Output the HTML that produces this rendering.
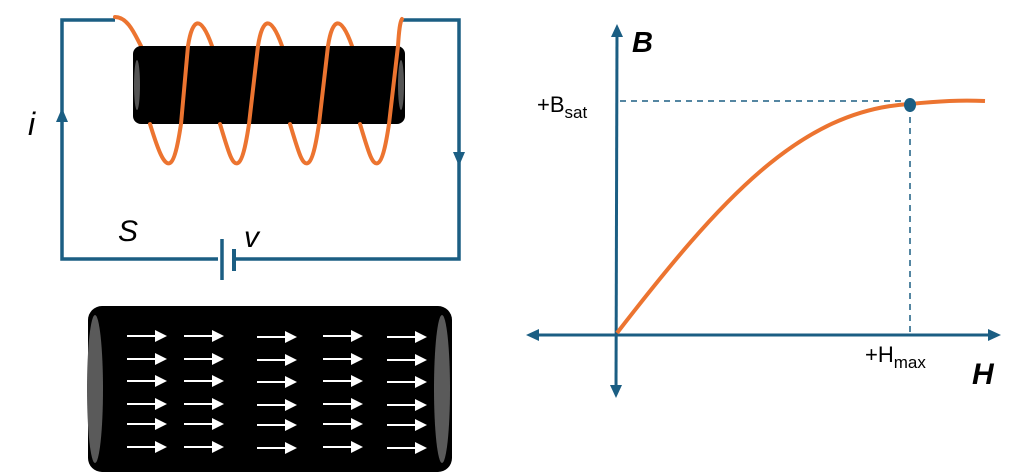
<!DOCTYPE html>
<html><head><style>
html,body{margin:0;padding:0;background:#fff;}
svg{display:block;}
text{font-family:"Liberation Sans",sans-serif;}
</style></head><body>
<svg width="1024" height="476" viewBox="0 0 1024 476" xmlns="http://www.w3.org/2000/svg">
<defs>
<marker id="ah" markerWidth="6" markerHeight="6" refX="5" refY="3" orient="auto" markerUnits="strokeWidth"><path d="M0,0 L6,3 L0,6 z" fill="#fff"/></marker>
</defs>
<g stroke="#1b5e83" stroke-width="3.5" fill="none">
<path d="M115,20 H62 V259 H218"/>
<path d="M400,20 H459 V259 H234"/>
<line x1="222" y1="239" x2="222" y2="280"/>
<line x1="234" y1="249" x2="234" y2="271" stroke-width="4"/>
</g>
<path d="M62,108 L56,122 L68,122 z" fill="#1b5e83"/>
<path d="M459,166 L453,152 L465,152 z" fill="#1b5e83"/>
<g stroke="#ec7430" stroke-width="4" fill="none" stroke-linecap="round">
<path d="M115,17 C128,17 135,35 141,46"/>
<path d="M188,46 C192,20 200,12 212,46"/>
<path d="M258,46 C262,20 270,12 282,46"/>
<path d="M328,46 C332,20 340,12 352,46"/>
<path d="M398,46 C399,30 400,22 402,19"/>
</g>
<rect x="133" y="46" width="272" height="78" rx="8" fill="#000"/>
<ellipse cx="137" cy="85" rx="3" ry="25" fill="#555"/>
<ellipse cx="401" cy="85" rx="3" ry="25" fill="#555"/>
<g stroke="#ec7430" stroke-width="4" fill="none" stroke-linecap="round">
<path d="M150,124 C158,150 164,166 170,163 C176,160 180,130 181,124 L188,46"/>
<path d="M220,124 C228,150 232,166 238,163 C244,160 248,130 249,124 L258,46"/>
<path d="M290,124 C298,150 302,166 308,163 C314,160 318,130 319,124 L328,46"/>
<path d="M360,124 C368,150 372,166 378,163 C384,160 388,130 389,124 L398,46"/>
</g>
<text x="28" y="135" font-size="32" font-style="italic">i</text>
<text x="118" y="241" font-size="30" font-style="italic">S</text>
<text x="244" y="247" font-size="30" font-style="italic">v</text>
<rect x="88" y="306" width="364" height="166" rx="14" fill="#000"/>
<ellipse cx="95" cy="389" rx="8" ry="74" fill="#5a5a5a"/>
<ellipse cx="442" cy="389" rx="8" ry="74" fill="#5a5a5a"/>
<g stroke="#fff" stroke-width="2" marker-end="url(#ah)">
<g id="col">
<line x1="127" y1="336" x2="165" y2="336"/>
<line x1="127" y1="359" x2="165" y2="359"/>
<line x1="127" y1="381" x2="165" y2="381"/>
<line x1="127" y1="404" x2="165" y2="404"/>
<line x1="127" y1="424" x2="165" y2="424"/>
<line x1="127" y1="447" x2="165" y2="447"/>
</g>
<use href="#col" x="57"/>
<use href="#col" x="130" y="1"/>
<use href="#col" x="196"/>
<use href="#col" x="260" y="1"/>
</g>
<g stroke="#1b5e83" stroke-width="3" fill="none">
<line x1="617" y1="30" x2="616" y2="392"/>
<line x1="532" y1="335" x2="995" y2="335"/>
</g>
<g fill="#1b5e83">
<path d="M617,24 L611,37 L623,37 z"/>
<path d="M616,398 L610,385 L622,385 z"/>
<path d="M526,335 L539,329 L539,341 z"/>
<path d="M1001,335 L988,329 L988,341 z"/>
</g>
<g stroke="#1b5e83" stroke-width="1.5" stroke-dasharray="6,5" fill="none">
<line x1="620" y1="101" x2="905" y2="101"/>
<line x1="910" y1="106" x2="910" y2="335"/>
</g>
<path d="M617,333 C720,200 800,110 910,104 C940,101 960,100 985,101" stroke="#ec7430" stroke-width="4" fill="none"/>
<ellipse cx="910" cy="105" rx="6" ry="7" fill="#1b5e83"/>
<text x="632" y="52" font-size="29" font-weight="bold" font-style="italic">B</text>
<text x="537" y="112" font-size="22">+B<tspan font-size="17" dy="6">sat</tspan></text>
<text x="865" y="362" font-size="22">+H<tspan font-size="17" dy="6">max</tspan></text>
<text x="972" y="384" font-size="30" font-weight="bold" font-style="italic">H</text>
</svg>
</body></html>
